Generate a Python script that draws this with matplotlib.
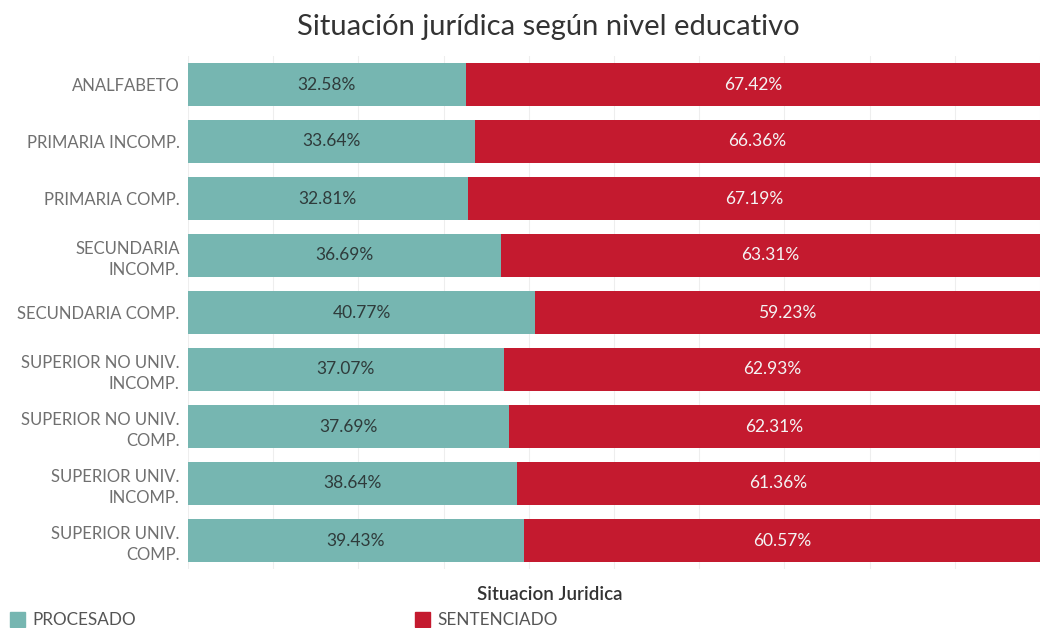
import matplotlib.pyplot as plt
import numpy as np

plt.rcParams["font.family"] = ["Lato", "DejaVu Sans"]

categories = [
    "ANALFABETO",
    "PRIMARIA INCOMP.",
    "PRIMARIA COMP.",
    "SECUNDARIA\nINCOMP.",
    "SECUNDARIA COMP.",
    "SUPERIOR NO UNIV.\nINCOMP.",
    "SUPERIOR NO UNIV.\nCOMP.",
    "SUPERIOR UNIV.\nINCOMP.",
    "SUPERIOR UNIV.\nCOMP.",
]
procesado = [32.58, 33.64, 32.81, 36.69, 40.77, 37.07, 37.69, 38.64, 39.43]
sentenciado = [67.42, 66.36, 67.19, 63.31, 59.23, 62.93, 62.31, 61.36, 60.57]

teal = "#76b6b1"
red = "#c41a2f"

fig = plt.figure(figsize=(10.4, 6.28), dpi=100)
ax = fig.add_axes([188 / 1040, 1 - 569 / 628, 852 / 1040, 513 / 628])

y = np.arange(len(categories))
ax.barh(y, procesado, height=0.76, color=teal, zorder=2)
ax.barh(y, sentenciado, left=procesado, height=0.76, color=red, zorder=2)

for i in range(len(categories)):
    ax.text(procesado[i] / 2, y[i], f"{procesado[i]:.2f}%", ha="center", va="center",
            fontsize=12.5, color="#2f3b3b", zorder=3)
    ax.text(procesado[i] + sentenciado[i] / 2, y[i], f"{sentenciado[i]:.2f}%", ha="center",
            va="center", fontsize=12.5, color="#f4f4f4", zorder=3)

ax.set_xlim(0, 100)
ax.set_ylim(len(categories) - 0.5, -0.5)
ax.set_yticks(y)
ax.set_yticklabels(categories, fontsize=12, color="#707070", linespacing=1.35)
ax.set_xticks(np.arange(0, 101, 10))
ax.tick_params(axis="x", length=0, labelbottom=False)
ax.tick_params(axis="y", length=0, pad=6)
ax.grid(axis="x", color="#eeeeee", linewidth=0.8, zorder=0)
for s in ax.spines.values():
    s.set_visible(False)

fig.text(548 / 1040, 1 - 27 / 628, "Situación jurídica según nivel educativo", ha="center",
         va="center", fontsize=21, color="#333333")

fig.text(550 / 1040, 1 - 595 / 628, "Situacion Juridica", ha="center", va="center",
         fontsize=13.5, color="#333333", fontweight="semibold")

for xs, label, col in [(10, "PROCESADO", teal), (415, "SENTENCIADO", red)]:
    fig.patches.append(plt.Rectangle((xs / 1040, 1 - 627 / 628), 15 / 1040, 15 / 628,
                                     transform=fig.transFigure, color=col))
    fig.text((xs + 22) / 1040, 1 - 620 / 628, label, ha="left", va="center", fontsize=12.3,
             color="#555555")

fig.savefig("out.png", dpi=100)
